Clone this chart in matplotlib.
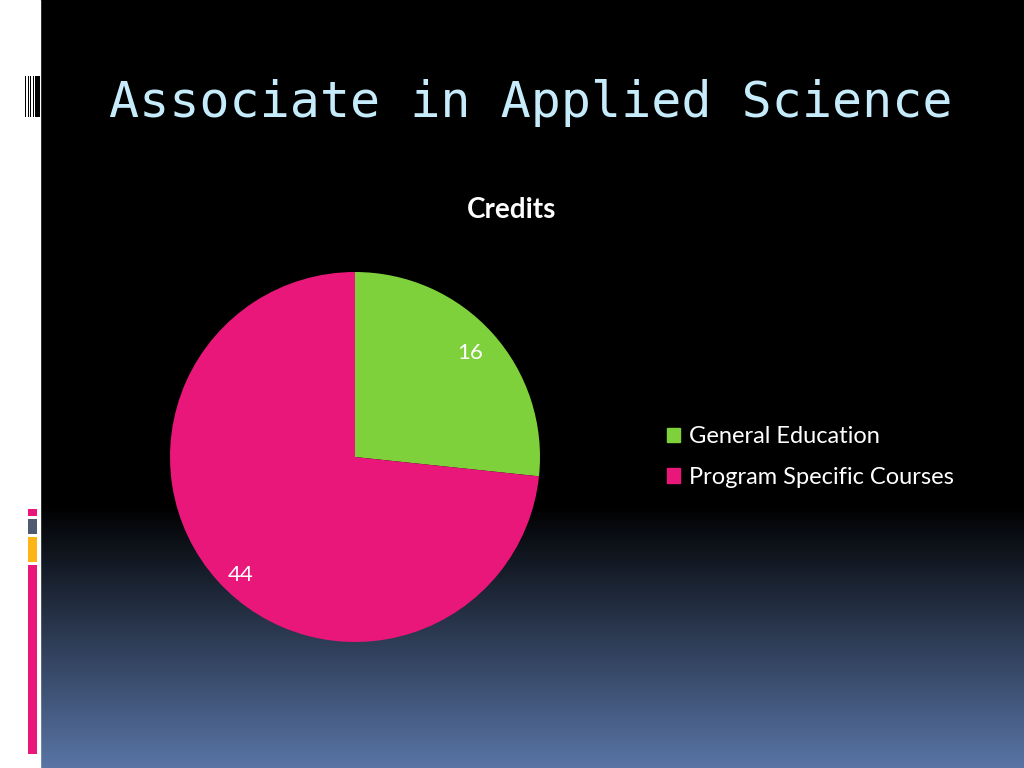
import numpy as np
import matplotlib
matplotlib.use("Agg")
import matplotlib.pyplot as plt
from matplotlib.patches import Rectangle

# ---- data ----
title = "Associate in Applied Science"
chart_title = "Credits"
categories = ["General Education", "Program Specific Courses"]
values = [16, 44]
colors = ["#7ed13b", "#e9177a"]

W, H = 1024, 768
fig = plt.figure(figsize=(W / 100, H / 100), dpi=100)

# background gradient (black -> steel blue at bottom)
bg = fig.add_axes([0, 0, 1, 1])
bg.set_xlim(0, W)
bg.set_ylim(H, 0)
bg.axis("off")
ys = np.arange(H)
top = np.array([0, 0, 0]) / 255
bot = np.array([89, 117, 166]) / 255
t = np.clip((ys - 505) / (H - 505), 0, 1)
grad = top[None, :] * (1 - t[:, None]) + bot[None, :] * t[:, None]
img = np.repeat(grad[:, None, :], 2, axis=1)
bg.imshow(img, extent=[0, W, H, 0], aspect="auto", zorder=0)

# white left strip
bg.add_patch(Rectangle((0, 0), 40, H, color="white", zorder=1))
# barcode decoration
for x0, w in [(25, 1.0), (27.5, 1.2), (30, 1.2), (32.5, 1.5), (35, 5)]:
    bg.add_patch(Rectangle((x0, 76), w, 41, color="black", lw=0, zorder=2))
# coloured blocks
for y0, y1, c in [(509, 516, "#e9177a"), (519, 534, "#4d5a6f"),
                  (537, 562, "#fdb515"), (565, 754, "#e9177a")]:
    bg.add_patch(Rectangle((28, y0), 9, y1 - y0, color=c, lw=0, zorder=2))

# title
fig.text(531 / W, 1 - 103 / H, title, ha="center", va="center",
         family="DejaVu Sans Mono", fontsize=36, color="#c6ecfb")
fig.text(512 / W, 1 - 210 / H, chart_title, ha="center", va="center",
         family="Lato", fontweight="bold", fontsize=20, color="white")

# pie
cx, cy, r = 355, 457, 185
ax = fig.add_axes([(cx - r) / W, (H - cy - r) / H, 2 * r / W, 2 * r / H])
ax.set_facecolor("none")
wedges, _ = ax.pie(values, colors=colors, startangle=90, counterclock=False,
                   radius=1, wedgeprops=dict(linewidth=0))
ax.set_xlim(-1, 1)
ax.set_ylim(-1, 1)
ax.set_aspect("equal")
ax.axis("off")
label_dist = [0.84, 0.89]
label_shift = [0.0, 4.0]  # small angular tweak (degrees)
for wdg, v, d, s in zip(wedges, values, label_dist, label_shift):
    ang = np.deg2rad((wdg.theta1 + wdg.theta2) / 2 + s)
    ax.text(d * np.cos(ang), d * np.sin(ang), str(v), ha="center", va="center",
            family="Lato", fontsize=16, color="white")

# legend
handles = [Rectangle((0, 0), 1, 1, color=c) for c in colors]
leg = fig.legend(handles, categories, loc="center left",
                 bbox_to_anchor=(667 / W, 1 - 457 / H), frameon=False,
                 borderpad=0, borderaxespad=0,
                 prop=dict(family="Lato", size=17), labelcolor="white",
                 handlelength=0.55, handleheight=0.55, handletextpad=0.38,
                 labelspacing=0.84)

fig.savefig("out.png", dpi=100)
